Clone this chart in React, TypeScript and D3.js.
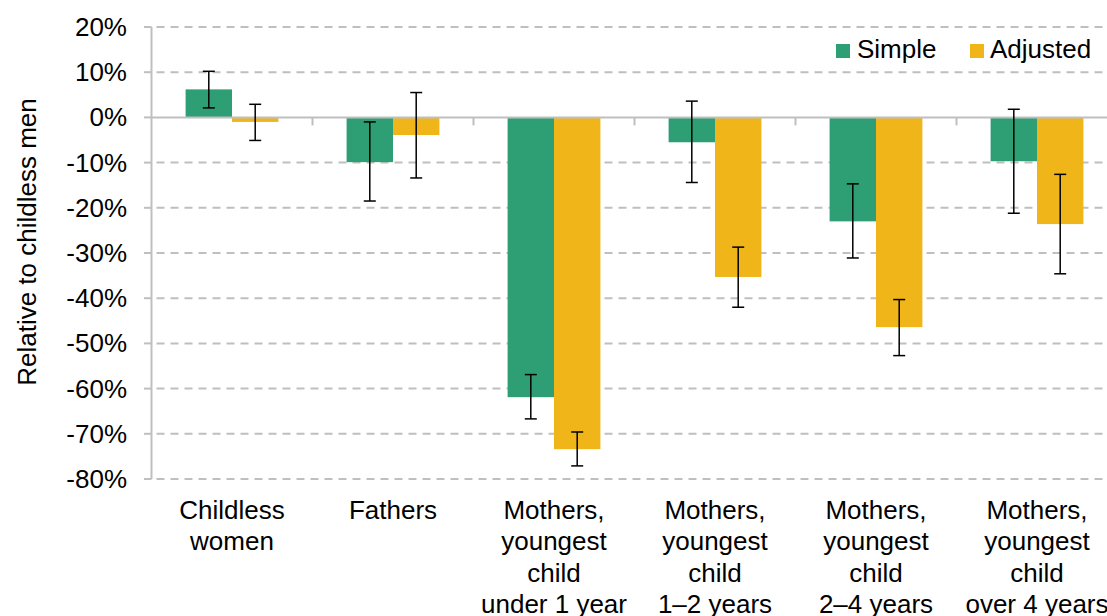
import * as d3 from 'd3';

// category labels, one entry per line of text
const categories = ['cw', 'fa', 'm0', 'm1', 'm2', 'm4'];
const categoryLines = [
  ['Childless', 'women'],
  ['Fathers'],
  ['Mothers,', 'youngest', 'child', 'under 1 year'],
  ['Mothers,', 'youngest', 'child', '1–2 years'],
  ['Mothers,', 'youngest', 'child', '2–4 years'],
  ['Mothers,', 'youngest', 'child', 'over 4 years'],
];

const series = ['Simple', 'Adjusted'];
const seriesColors = ['#2E9E75', '#F0B519'];

// percent, relative to childless men
const simpleValues = [6.2, -9.9, -61.9, -5.5, -23.0, -9.7];
const simpleLow = [2.1, -18.5, -66.7, -14.4, -31.1, -21.2];
const simpleHigh = [10.2, -1.0, -56.9, 3.6, -14.7, 1.8];
const adjustedValues = [-1.0, -3.9, -73.4, -35.3, -46.4, -23.6];
const adjustedLow = [-5.1, -13.4, -77.1, -42.0, -52.7, -34.6];
const adjustedHigh = [2.9, 5.5, -69.6, -28.7, -40.3, -12.6];

const yTicks = [20, 10, 0, -10, -20, -30, -40, -50, -60, -70, -80];

const W = 1107;
const H = 616;
const FONT = '"Liberation Sans", Arial, sans-serif';
const GRID = '#BFBFBF';

export default function App() {
  const left = 151.5;
  const x = d3.scaleBand<string>().domain(categories).range([left, left + 6 * 161]).padding(0);
  const y = d3.scaleLinear().domain([-80, 20]).range([479, 27]);
  const pairW = 92.8;
  const x1 = d3.scaleBand<string>().domain(series).range([0, pairW]).padding(0);

  const rows = categories.map((c, i) => ({
    c,
    bars: [
      { s: 'Simple', v: simpleValues[i], lo: simpleLow[i], hi: simpleHigh[i], color: seriesColors[0] },
      { s: 'Adjusted', v: adjustedValues[i], lo: adjustedLow[i], hi: adjustedHigh[i], color: seriesColors[1] },
    ],
  }));

  const y0 = y(0);
  const capHalf = 6;

  return (
    <svg width={W} height={H} style={{ position: 'absolute', left: 0, top: 0, background: '#fff' }} fontFamily={FONT}>
      {/* gridlines */}
      {yTicks.filter(t => t !== 0).map(t => (
        <line key={'g' + t} x1={left} x2={W} y1={y(t)} y2={y(t)} stroke={GRID} strokeWidth={2} strokeDasharray="8,6" strokeDashoffset={-5} />
      ))}

      {/* bars */}
      {rows.map(r => {
        const cx = (x(r.c) ?? 0) + x.bandwidth() / 2 - pairW / 2;
        return (
          <g key={r.c} transform={`translate(${cx},0)`}>
            {r.bars.map(b => (
              <rect key={b.s} x={x1(b.s)} width={x1.bandwidth()} y={Math.min(y(b.v), y0)} height={Math.abs(y(b.v) - y0)} fill={b.color} />
            ))}
          </g>
        );
      })}

      {/* zero line and y axis */}
      <line x1={left} x2={W} y1={y0} y2={y0} stroke={GRID} strokeWidth={2} />
      <line x1={left} x2={left} y1={y(20)} y2={y(-80)} stroke={GRID} strokeWidth={2} />
      {yTicks.map(t => (
        <g key={'t' + t}>
          <line x1={144} x2={left} y1={y(t)} y2={y(t)} stroke={GRID} strokeWidth={2} />
          <text x={127} y={y(t) + 9} textAnchor="end" fontSize={26} fill="#000">{`${t}%`}</text>
        </g>
      ))}
      {categories.slice(1).map(c => (
        <line key={'xt' + c} x1={x(c)} x2={x(c)} y1={y0} y2={y0 + 8} stroke={GRID} strokeWidth={2} />
      ))}

      {/* error bars */}
      {rows.map(r => {
        const cx = (x(r.c) ?? 0) + x.bandwidth() / 2 - pairW / 2;
        return (
          <g key={'e' + r.c} transform={`translate(${cx},0)`} stroke="#000" strokeWidth={1.5}>
            {r.bars.map(b => {
              const ex = (x1(b.s) ?? 0) + x1.bandwidth() / 2;
              return (
                <g key={b.s}>
                  <line x1={ex} x2={ex} y1={y(b.hi)} y2={y(b.lo)} />
                  <line x1={ex - capHalf} x2={ex + capHalf} y1={y(b.hi)} y2={y(b.hi)} />
                  <line x1={ex - capHalf} x2={ex + capHalf} y1={y(b.lo)} y2={y(b.lo)} />
                </g>
              );
            })}
          </g>
        );
      })}

      {/* category labels */}
      {categories.map((c, i) => (
        <text key={'l' + c} x={(x(c) ?? 0) + x.bandwidth() / 2} y={519} textAnchor="middle" fontSize={26} fill="#000">
          {categoryLines[i].map((ln, j) => (
            <tspan key={j} x={(x(c) ?? 0) + x.bandwidth() / 2} dy={j === 0 ? 0 : 31.3}>{ln}</tspan>
          ))}
        </text>
      ))}

      {/* axis title */}
      <text transform="translate(36,242) rotate(-90)" textAnchor="middle" fontSize={26} fill="#000">Relative to childless men</text>

      {/* legend */}
      <rect x={836} y={44} width={14} height={14} fill={seriesColors[0]} />
      <text x={857} y={58} fontSize={26} fill="#000">{series[0]}</text>
      <rect x={970} y={44} width={14} height={14} fill={seriesColors[1]} />
      <text x={990} y={58} fontSize={26} fill="#000">{series[1]}</text>
    </svg>
  );
}
